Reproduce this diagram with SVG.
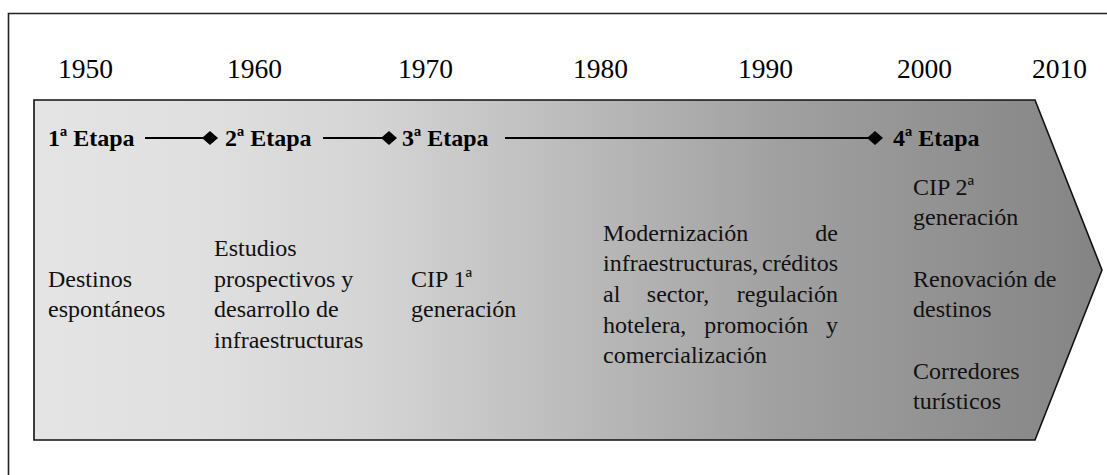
<svg xmlns="http://www.w3.org/2000/svg" width="1107" height="475" viewBox="0 0 1107 475">
<style>
.yr{font-family:"Liberation Serif","Times New Roman",serif;font-size:27.5px;fill:#000}
.et{font-family:"Liberation Serif","Times New Roman",serif;font-size:24px;font-weight:bold;fill:#000}
.tx{font-family:"Liberation Serif","Times New Roman",serif;font-size:24px;fill:#111}
.conn{stroke:#000;stroke-width:2;fill:none;marker-end:url(#dia)}
</style>
<defs>
<linearGradient id="grad" gradientUnits="userSpaceOnUse" x1="34" y1="0" x2="1102" y2="0">
<stop offset="0" stop-color="#e4e4e4"/>
<stop offset="0.15" stop-color="#e0e0e0"/>
<stop offset="0.32" stop-color="#d4d4d4"/>
<stop offset="0.5" stop-color="#bcbcbc"/>
<stop offset="0.7" stop-color="#a0a0a0"/>
<stop offset="1" stop-color="#848484"/>
</linearGradient>
<marker id="dia" markerUnits="userSpaceOnUse" viewBox="-8 -7 16 14" markerWidth="16" markerHeight="14" refX="0" refY="0" orient="auto">
<path d="M-8,0 L0,-7 L8,0 L0,7 Z" fill="#000"/>
</marker>
</defs>
<rect width="1107" height="475" fill="#fff"/>
<path d="M8.5,476 V13.5 H1108" fill="none" stroke="#222" stroke-width="1.6"/>
<g id="years">
<text class="yr" x="58" y="78">1950</text>
<text class="yr" x="227" y="78">1960</text>
<text class="yr" x="398" y="78">1970</text>
<text class="yr" x="573" y="78">1980</text>
<text class="yr" x="738" y="78">1990</text>
<text class="yr" x="897" y="78">2000</text>
<text class="yr" x="1032" y="78">2010</text>
</g>
<g id="arrow">
<polygon points="34,100 1035,100 1102,270 1035,440 34,440" fill="url(#grad)" stroke="#111" stroke-width="1.6"/>
</g>
<g id="connectors">
<line class="conn" x1="145" y1="138" x2="210" y2="138"/>
<line class="conn" x1="323" y1="138" x2="389" y2="138"/>
<line class="conn" x1="505" y1="138" x2="875" y2="138"/>
</g>
<g id="etapa1">
<text class="et" x="48" y="146">1ª Etapa</text>
<text class="tx" x="48" y="286.7">Destinos</text>
<text class="tx" x="48" y="317.4">espontáneos</text>
</g>
<g id="etapa2">
<text class="et" x="225" y="146">2ª Etapa</text>
<text class="tx" x="214" y="256">Estudios</text>
<text class="tx" x="214" y="286.7">prospectivos y</text>
<text class="tx" x="214" y="317.4">desarrollo de</text>
<text class="tx" x="214" y="348">infraestructuras</text>
</g>
<g id="etapa3">
<text class="et" x="402" y="146">3ª Etapa</text>
<text class="tx" x="411" y="286.7">CIP 1ª</text>
<text class="tx" x="411" y="317.4">generación</text>
<text class="tx" x="603" y="240.6">Modernización</text>
<text class="tx" x="838" y="240.6" text-anchor="end">de</text>
<text class="tx" x="603" y="271.3">infraestructuras,</text>
<text class="tx" x="838" y="271.3" text-anchor="end">créditos</text>
<text class="tx" x="603" y="302">al</text>
<text class="tx" x="646.8" y="302">sector,</text>
<text class="tx" x="838" y="302" text-anchor="end">regulación</text>
<text class="tx" x="603" y="332.7">hotelera,</text>
<text class="tx" x="704.2" y="332.7">promoción</text>
<text class="tx" x="838" y="332.7" text-anchor="end">y</text>
<text class="tx" x="603" y="363.4">comercialización</text>
</g>
<g id="etapa4">
<text class="et" x="893" y="146">4ª Etapa</text>
<text class="tx" x="913" y="194.5">CIP 2ª</text>
<text class="tx" x="913" y="225.2">generación</text>
<text class="tx" x="913" y="286.6">Renovación de</text>
<text class="tx" x="913" y="317.3">destinos</text>
<text class="tx" x="913" y="378.7">Corredores</text>
<text class="tx" x="913" y="409.4">turísticos</text>
</g>
</svg>
